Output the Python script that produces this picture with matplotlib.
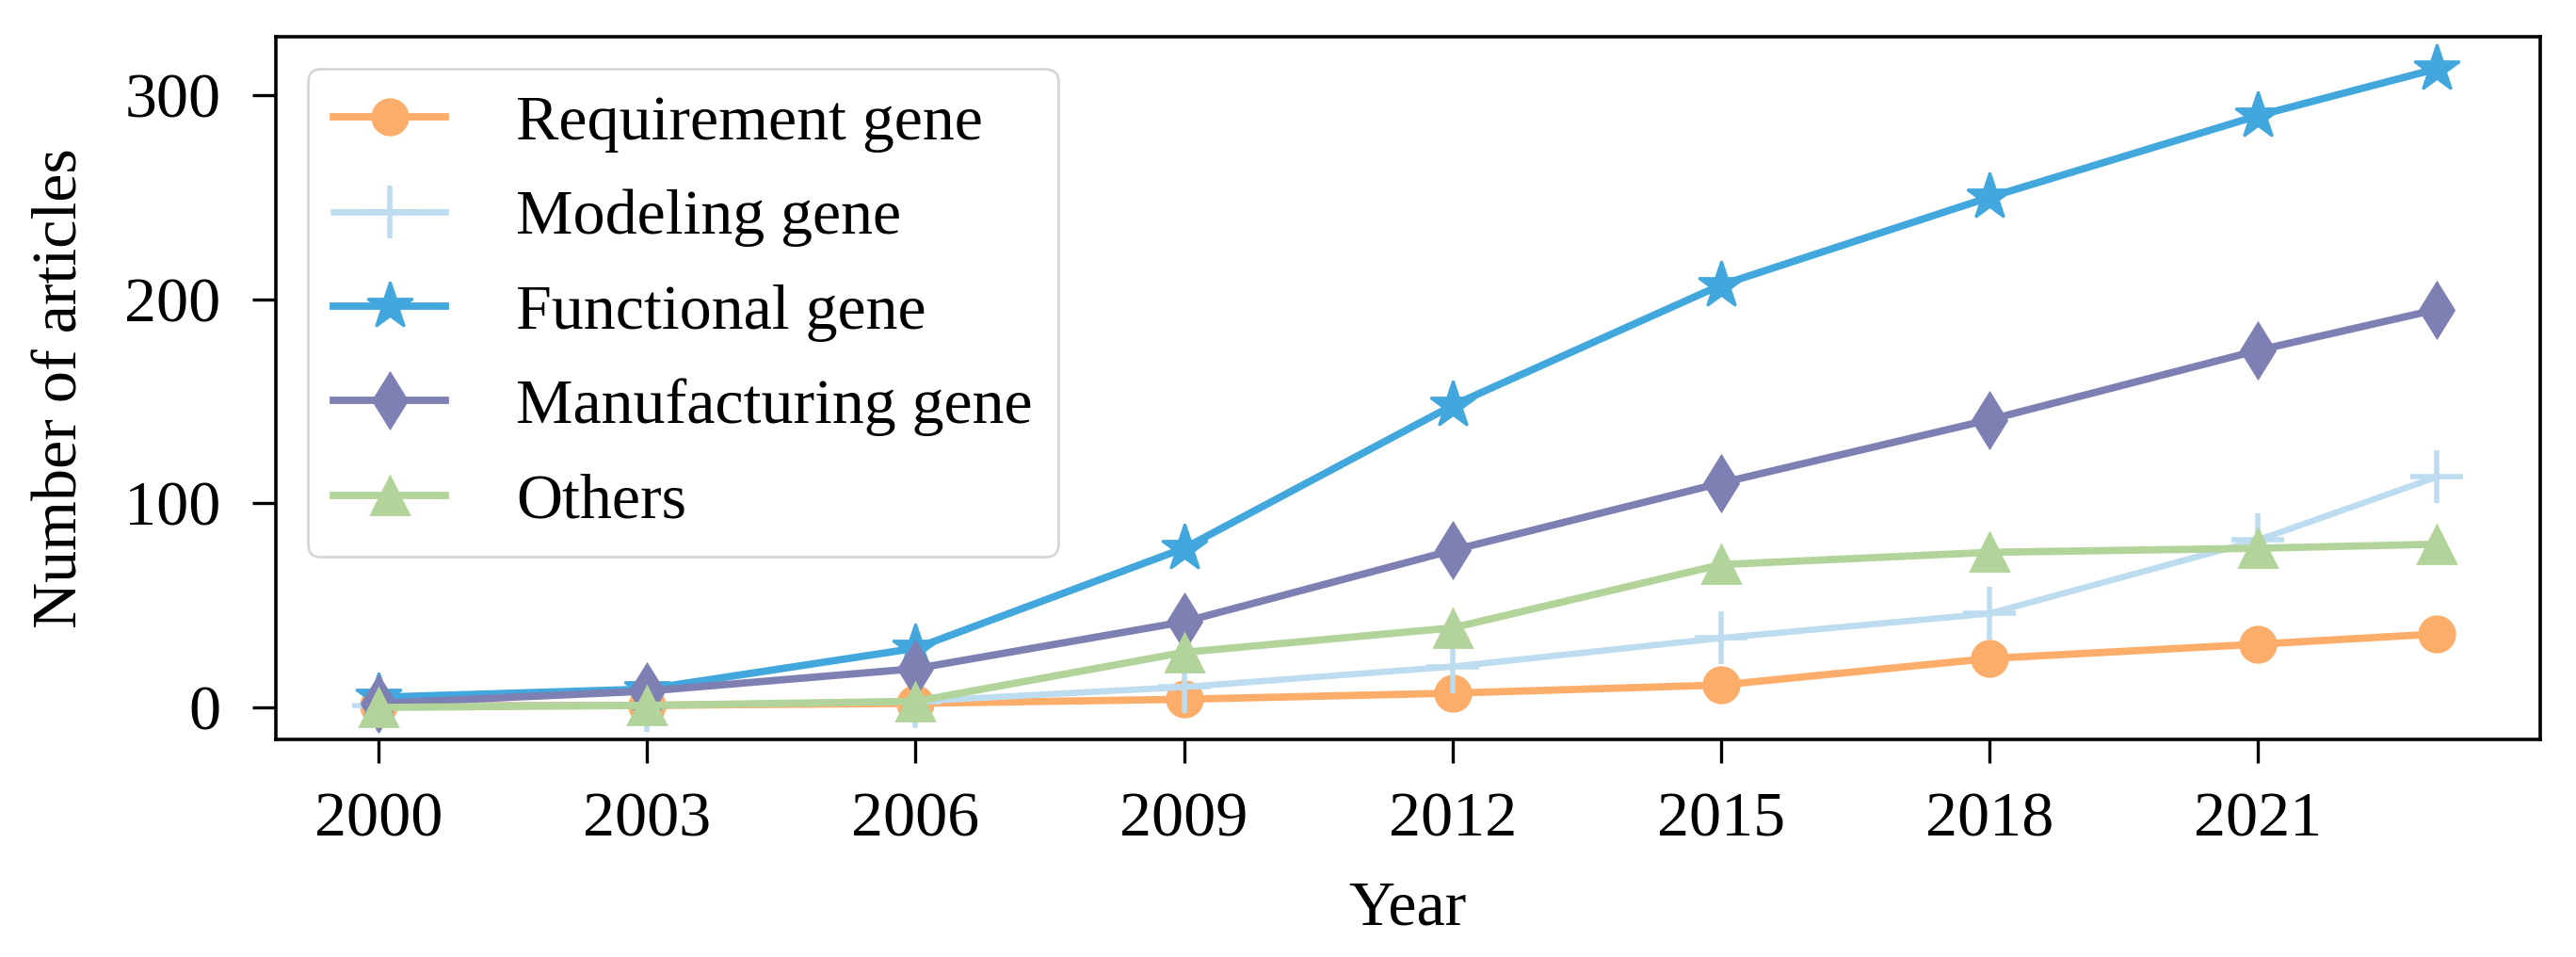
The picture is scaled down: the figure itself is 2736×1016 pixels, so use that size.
import numpy as np
import matplotlib
matplotlib.use('Agg')
import matplotlib.pyplot as plt

matplotlib.rcParams['font.family'] = 'serif'
matplotlib.rcParams['font.serif'] = ['Liberation Serif', 'DejaVu Serif']

# ── Data ─────────────────────────────────────────────────────────────────────
years = [2000, 2003, 2006, 2009, 2012, 2015, 2018, 2021, 2023]
requirement   = [1, 1, 2, 4, 7, 11, 24, 31, 36]
modeling      = [1, 1, 3, 10, 20, 34, 46, 82, 113]
functional    = [5, 9, 29, 78, 148, 207, 250, 290, 313]
manufacturing = [2, 8, 19, 42, 77, 110, 141, 175, 195]
others        = [0, 1, 3, 27, 39, 70, 76, 78, 80]

xticks = [2000, 2003, 2006, 2009, 2012, 2015, 2018, 2021]
yticks = [0, 100, 200, 300]

FS = 24.5

series = [
    (requirement,   'Requirement gene',   '#fdad6a', 'o', 13.5, 2.8),
    (modeling,      'Modeling gene',      '#bddcf0', '+', 20,   2.4),
    (functional,    'Functional gene',    '#41a7dc', '*', 18.5, 2.8),
    (manufacturing, 'Manufacturing gene', '#7e7fb2', 'd', 15,   2.8),
    (others,        'Others',             '#b2d49a', '^', 14.5, 2.8),
]

fig = plt.figure(figsize=(13.68, 5.08), dpi=200)
ax = fig.add_axes([0.107, 0.2274, 0.879, 0.7342])

for vals, lbl, col, mk, ms, lw in series:
    ax.plot(years, vals, color=col, lw=lw, marker=mk, ms=ms,
            mew=2.0 if mk == '+' else 1.0, label=lbl)

ax.set_xticks(xticks)
ax.set_yticks(yticks)
ax.set_xlabel('Year', fontsize=FS, labelpad=12)
ax.set_ylabel('Number of articles', fontsize=FS, labelpad=13)
ax.tick_params(labelsize=FS, length=9, width=1.2)
ax.tick_params(axis='x', pad=11)
ax.tick_params(axis='y', pad=12)
for sp in ax.spines.values():
    sp.set_linewidth(1.3)

ax.legend(loc='upper left', fontsize=FS, labelspacing=0.57,
          handlelength=1.75, handletextpad=1.1, borderaxespad=0.5)

fig.savefig('out.png', dpi=200)
